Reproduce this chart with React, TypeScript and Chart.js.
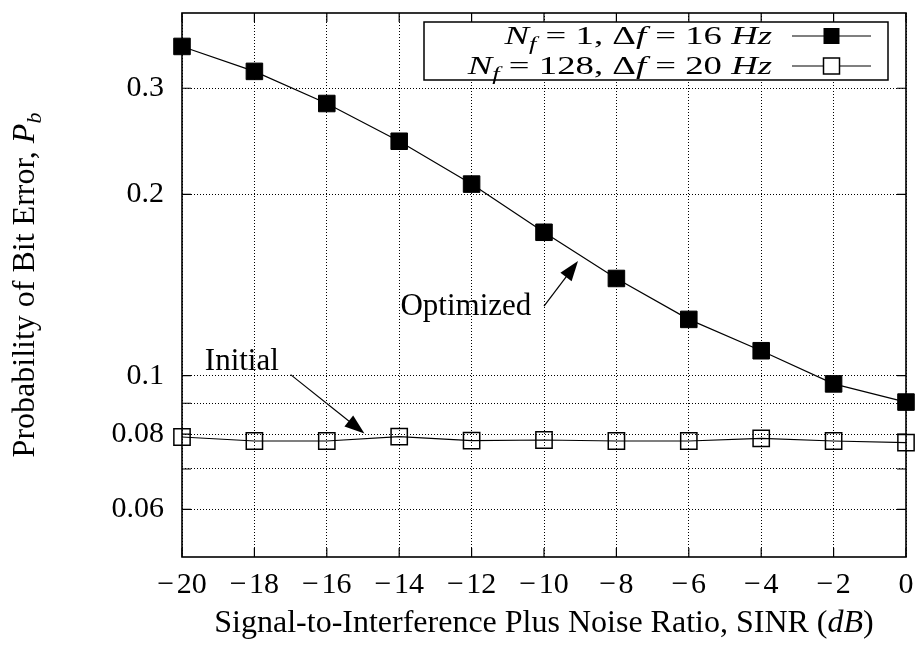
import React, { useEffect, useRef } from 'react';
import { Chart, registerables } from 'chart.js';
Chart.register(...registerables);

// ---- data ----
const sinr = [-20, -18, -16, -14, -12, -10, -8, -6, -4, -2, 0];
const optimized = [0.352, 0.32, 0.283, 0.245, 0.208, 0.173, 0.145, 0.124, 0.11, 0.0969, 0.0904];
const initial = [0.0791, 0.0779, 0.0779, 0.0792, 0.078, 0.0782, 0.0779, 0.0779, 0.0787, 0.0779, 0.0774];
const yGridValues = [0.06, 0.07, 0.08, 0.09, 0.1, 0.2, 0.3];
const yLabelValues = [0.06, 0.08, 0.1, 0.2, 0.3];
const xMin = -20;
const xMax = 0;
const yMin = 0.05;
const yMax = 0.4;

type Seg = { t: string; it?: boolean; sub?: boolean };
const legendRows: Seg[][] = [
  [{ t: 'N', it: true }, { t: 'f', it: true, sub: true }, { t: ' = 1, Δ' }, { t: 'f', it: true }, { t: ' = 16 ' }, { t: 'Hz', it: true }],
  [{ t: 'N', it: true }, { t: 'f', it: true, sub: true }, { t: ' = 128, Δ' }, { t: 'f', it: true }, { t: ' = 20 ' }, { t: 'Hz', it: true }],
];
const xTitle: Seg[] = [{ t: 'Signal-to-Interference Plus Noise Ratio, SINR (' }, { t: 'dB', it: true }, { t: ')' }];
const yTitle: Seg[] = [{ t: 'Probability of Bit Error, ' }, { t: 'P', it: true }, { t: 'b', it: true, sub: true }];

const annotations = [
  { text: 'Optimized', x: -10.35, y: 0.126, align: 'right', from: [-10.0, 0.1304], to: [-9.06, 0.155] },
  { text: 'Initial', x: -19.37, y: 0.102, align: 'left', from: [-17.0, 0.1004], to: [-14.96, 0.0802] },
];

const FONT = '"Liberation Serif", "Times New Roman", serif';

function drawRich(ctx: CanvasRenderingContext2D, segs: Seg[], x: number, y: number, size: number, align: string, scaleX = 1) {
  const fontFor = (s: Seg) => `${s.it ? 'italic ' : ''}${s.sub ? Math.round(size * 0.7) : size}px ${FONT}`;
  let w = 0;
  const widths = segs.map((s) => {
    ctx.font = fontFor(s);
    const m = ctx.measureText(s.t).width;
    w += m;
    return m;
  });
  ctx.save();
  ctx.translate(x, y);
  ctx.scale(scaleX, 1);
  let cx = align === 'right' ? -w : align === 'center' ? -w / 2 : 0;
  ctx.textBaseline = 'alphabetic';
  ctx.textAlign = 'left';
  ctx.fillStyle = '#000';
  segs.forEach((s, i) => {
    ctx.font = fontFor(s);
    ctx.fillText(s.t, cx, s.sub ? size * 0.22 : 0);
    cx += widths[i];
  });
  ctx.restore();
}

function drawArrow(ctx: CanvasRenderingContext2D, x1: number, y1: number, x2: number, y2: number) {
  const ang = Math.atan2(y2 - y1, x2 - x1);
  const len = 20;
  const hw = 7;
  ctx.save();
  ctx.strokeStyle = '#000';
  ctx.fillStyle = '#000';
  ctx.lineWidth = 1.2;
  ctx.beginPath();
  ctx.moveTo(x1, y1);
  ctx.lineTo(x2 - Math.cos(ang) * len * 0.8, y2 - Math.sin(ang) * len * 0.8);
  ctx.stroke();
  ctx.beginPath();
  ctx.moveTo(x2, y2);
  ctx.lineTo(x2 - Math.cos(ang) * len - Math.sin(ang) * hw, y2 - Math.sin(ang) * len + Math.cos(ang) * hw);
  ctx.lineTo(x2 - Math.cos(ang) * len + Math.sin(ang) * hw, y2 - Math.sin(ang) * len - Math.cos(ang) * hw);
  ctx.closePath();
  ctx.fill();
  ctx.restore();
}

const framePlugin = {
  id: 'frame',
  beforeDatasetsDraw(chart: any) {
    const { ctx, chartArea: a, scales } = chart;
    ctx.save();
    ctx.strokeStyle = '#000';
    ctx.lineWidth = 1.2;
    ctx.beginPath();
    const tl = 9;
    yGridValues.forEach((v) => {
      const py = scales.y.getPixelForValue(v);
      ctx.moveTo(a.left, py);
      ctx.lineTo(a.left + tl, py);
      ctx.moveTo(a.right, py);
      ctx.lineTo(a.right - tl, py);
    });
    sinr.forEach((v) => {
      const px = scales.x.getPixelForValue(v);
      ctx.moveTo(px, a.bottom);
      ctx.lineTo(px, a.bottom - tl);
      ctx.moveTo(px, a.top);
      ctx.lineTo(px, a.top + tl);
    });
    ctx.stroke();
    ctx.lineWidth = 1.6;
    ctx.strokeRect(a.left, a.top, a.right - a.left, a.bottom - a.top);
    ctx.restore();
  },
  afterDraw(chart: any) {
    const { ctx, chartArea: a, scales } = chart;
    ctx.save();
    // legend
    const lx = a.left + 242;
    const ly = a.top + 9;
    ctx.lineWidth = 1.5;
    ctx.strokeStyle = '#000';
    ctx.fillStyle = '#fff';
    ctx.fillRect(lx, ly, a.right - 18 - lx, 58);
    ctx.strokeRect(lx, ly, a.right - 18 - lx, 58);
    const textRight = a.right - 134;
    const sx1 = a.right - 114;
    const sx2 = a.right - 35;
    const mx = (sx1 + sx2) / 2;
    legendRows.forEach((row, i) => {
      const base = a.top + 31 + i * 30;
      drawRich(ctx, row, textRight, base, 25, 'right', 1.47);
      const cy = a.top + 23 + i * 30;
      ctx.lineWidth = 1.2;
      ctx.beginPath();
      ctx.moveTo(sx1, cy);
      ctx.lineTo(sx2, cy);
      ctx.stroke();
      if (i === 0) {
        ctx.fillStyle = '#000';
        ctx.fillRect(mx - 8, cy - 8, 16, 16);
      } else {
        ctx.fillStyle = '#fff';
        ctx.fillRect(mx - 8, cy - 8, 16, 16);
        ctx.lineWidth = 1.5;
        ctx.strokeRect(mx - 8, cy - 8, 16, 16);
      }
    });
    // annotations
    annotations.forEach((an) => {
      const px = scales.x.getPixelForValue(an.x);
      const py = scales.y.getPixelForValue(an.y);
      drawRich(ctx, [{ t: an.text }], px, py, 31, an.align);
      drawArrow(
        ctx,
        scales.x.getPixelForValue(an.from[0]),
        scales.y.getPixelForValue(an.from[1]),
        scales.x.getPixelForValue(an.to[0]),
        scales.y.getPixelForValue(an.to[1])
      );
    });
    // axis titles
    drawRich(ctx, xTitle, (a.left + a.right) / 2, a.bottom + 75, 32, 'center');
    ctx.translate(34, (a.top + a.bottom) / 2);
    ctx.rotate(-Math.PI / 2);
    drawRich(ctx, yTitle, 0, 0, 32, 'center');
    ctx.restore();
  },
};

export default function App() {
  const ref = useRef<HTMLCanvasElement>(null);
  useEffect(() => {
    if (!ref.current) return;
    const chart = new Chart(ref.current, {
      type: 'line',
      data: {
        datasets: [
          {
            label: 'Nf = 1, Δf = 16 Hz',
            data: sinr.map((x, i) => ({ x, y: optimized[i] })),
            borderColor: '#000',
            backgroundColor: '#000',
            borderWidth: 1.2,
            pointStyle: 'rect',
            pointRadius: 11.7,
            pointBorderWidth: 1,
            pointBackgroundColor: '#000',
            pointBorderColor: '#000',
            clip: false,
          },
          {
            label: 'Nf = 128, Δf = 20 Hz',
            data: sinr.map((x, i) => ({ x, y: initial[i] })),
            borderColor: '#000',
            backgroundColor: 'rgba(0,0,0,0)',
            borderWidth: 1.2,
            pointStyle: 'rect',
            pointRadius: 11.5,
            pointBorderWidth: 1.5,
            pointBackgroundColor: 'rgba(0,0,0,0)',
            pointBorderColor: '#000',
            clip: false,
          },
        ],
      },
      options: {
        responsive: false,
        animation: false,
        layout: { padding: { top: 8, right: 11, left: 0, bottom: 0 } },
        plugins: { legend: { display: false }, tooltip: { enabled: false } },
        scales: {
          x: {
            type: 'linear',
            min: xMin,
            max: xMax,
            afterBuildTicks: (s: any) => {
              s.ticks = sinr.map((v) => ({ value: v }));
            },
            afterFit: (s: any) => {
              s.height = 88;
              s.paddingLeft = 0;
              s.paddingRight = 0;
            },
            ticks: {
              color: '#000',
              font: { family: FONT, size: 30 },
              padding: 10,
              maxRotation: 0,
              autoSkip: false,
              callback: (v: any) => (v < 0 ? '\u2212\u200a' + -v : String(v)),
            },
            grid: { color: '#000', lineWidth: 1, drawTicks: false },
            border: { display: false, dash: [1, 2] },
          },
          y: {
            type: 'logarithmic',
            min: yMin,
            max: yMax,
            afterBuildTicks: (s: any) => {
              s.ticks = yGridValues.map((v) => ({ value: v }));
            },
            afterFit: (s: any) => {
              s.width = 182;
              s.paddingTop = 0;
              s.paddingBottom = 0;
            },
            ticks: {
              color: '#000',
              font: { family: FONT, size: 30 },
              padding: 18,
              autoSkip: false,
              callback: (v: any) => (yLabelValues.includes(Number(v)) ? String(v) : ''),
            },
            grid: { color: '#000', lineWidth: 1, drawTicks: false },
            border: { display: false, dash: [1, 2] },
          },
        },
      },
      plugins: [framePlugin],
    } as any);
    return () => chart.destroy();
  }, []);
  return (
    <canvas
      ref={ref}
      width={919}
      height={645}
      style={{ position: 'absolute', left: 0, top: 0, display: 'block', background: '#fff' }}
    />
  );
}
